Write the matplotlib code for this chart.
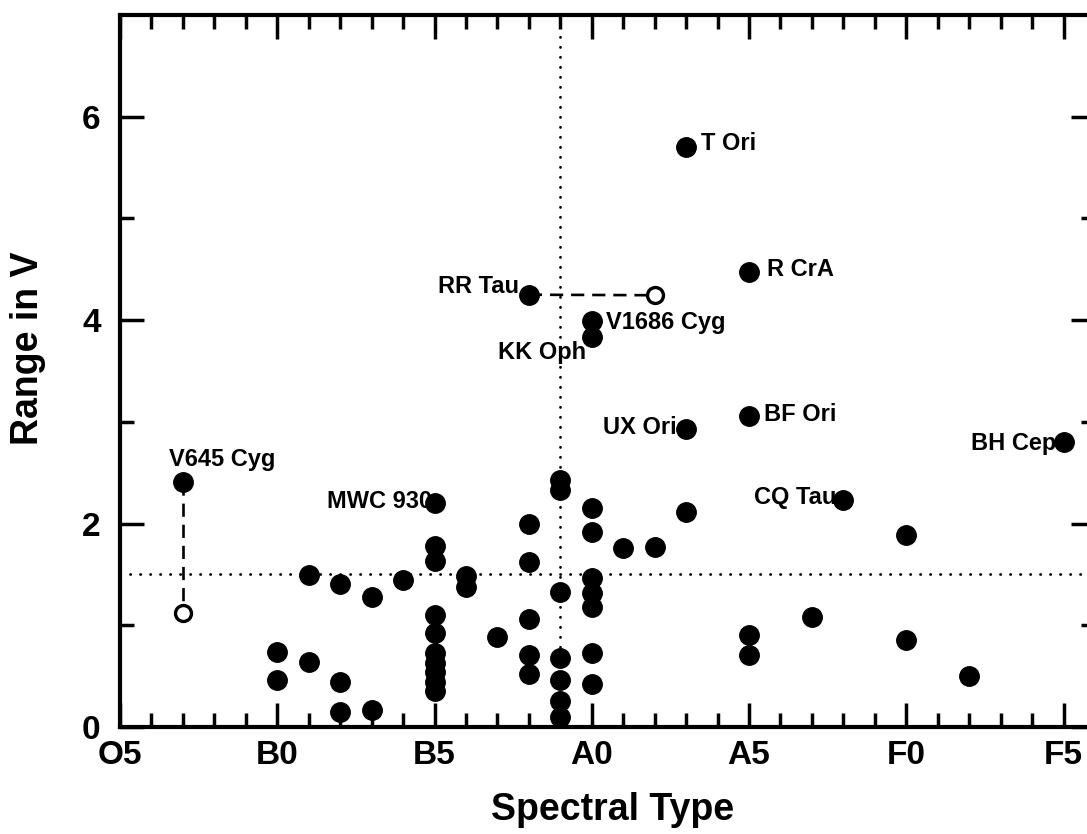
import numpy as np
import matplotlib.pyplot as plt

plt.rcParams['font.family'] = ['Liberation Sans', 'DejaVu Sans']
plt.rcParams['font.weight'] = 'bold'
plt.rcParams['axes.labelweight'] = 'bold'

# spectral subtype index: O5 = 0, B0 = 5, B5 = 10, A0 = 15, A5 = 20, F0 = 25, F5 = 30
spt_major = [0, 5, 10, 15, 20, 25, 30]
spt_labels = ['O5', 'B0', 'B5', 'A0', 'A5', 'F0', 'F5']

# stars without a name on the plot
star_spt = [5, 5,
            6, 6,
            7, 7, 7,
            8, 8,
            9,
            10, 10, 10, 10, 10, 10, 10, 10, 10,
            11, 11,
            12,
            13, 13, 13, 13, 13,
            14, 14, 14, 14, 14, 14, 14,
            15, 15, 15, 15, 15, 15, 15,
            16, 17, 18,
            20, 20,
            22,
            25, 25,
            27]
star_range = [0.74, 0.46,
              1.49, 0.64,
              1.41, 0.44, 0.15,
              1.28, 0.17,
              1.45,
              1.78, 1.63, 1.10, 0.92, 0.73, 0.63, 0.54, 0.44, 0.35,
              1.48, 1.38,
              0.88,
              2.00, 1.62, 1.06, 0.71, 0.52,
              2.43, 2.33, 1.33, 0.68, 0.46, 0.26, 0.10,
              2.15, 1.92, 1.46, 1.32, 1.18, 0.73, 0.42,
              1.76, 1.77, 2.11,
              0.90, 0.71,
              1.08,
              1.89, 0.86,
              0.50]

# named stars
named = ['V645 Cyg', 'MWC 930', 'RR Tau', 'KK Oph', 'V1686 Cyg', 'T Ori',
         'UX Ori', 'R CrA', 'BF Ori', 'CQ Tau', 'BH Cep']
named_spt = [2, 10, 13, 15, 15, 18, 18, 20, 20, 23, 30]
named_range = [2.41, 2.20, 4.25, 3.83, 3.99, 5.70, 2.93, 4.47, 3.06, 2.23, 2.80]

# alternative values (open circles) for V645 Cyg and RR Tau
alt_of = ['V645 Cyg', 'RR Tau']
alt_spt = [2, 17]
alt_range = [1.12, 4.245]

# where each name sits relative to its dot (points, alignment)
label_pos = {
    'V645 Cyg': (-10, 16, 'left'),
    'MWC 930': (-2, 1, 'right'),
    'RR Tau': (-7, 6, 'right'),
    'KK Oph': (-4, -11, 'right'),
    'V1686 Cyg': (10, -1, 'left'),
    'T Ori': (11, 3, 'left'),
    'UX Ori': (-7, 1, 'right'),
    'R CrA': (13, 2, 'left'),
    'BF Ori': (11, 1, 'left'),
    'CQ Tau': (-5, 2, 'right'),
    'BH Cep': (-5, -1, 'right'),
}

fig = plt.figure(figsize=(10.87, 8.34), dpi=100)
ax = fig.add_axes([120 / 1087, 107 / 834, 975 / 1087, 712 / 834])

dots = (0, (0.1, 3.5))
ax.axhline(1.5, color='k', lw=2, ls=dots, dash_capstyle='round', zorder=1)
ax.axvline(14, color='k', lw=2, ls=dots, dash_capstyle='round', zorder=1)

# dashed links between the two values of the same star
for name, xa, ya in zip(alt_of, alt_spt, alt_range):
    i = named.index(name)
    ax.plot([named_spt[i], xa], [named_range[i], ya], color='k', lw=1.9,
            dashes=(5, 3), zorder=2)

ax.plot(star_spt, star_range, 'o', color='k', ms=14, zorder=3)
ax.plot(named_spt, named_range, 'o', color='k', ms=14, zorder=3)
ax.plot(alt_spt, alt_range, 'o', mfc='white', mec='k', mew=2.4, ms=11.5, zorder=3)

for name, x, y in zip(named, named_spt, named_range):
    dx, dy, ha = label_pos[name]
    ax.annotate(name, (x, y), xytext=(dx, dy), textcoords='offset points',
                ha=ha, va='center', fontsize=17, zorder=4)

ax.set_xlim(0, 31)
ax.set_ylim(0, 7)
ax.set_xticks(spt_major)
ax.set_xticklabels(spt_labels)
ax.set_xticks(np.arange(0, 31), minor=True)
ax.set_yticks([0, 2, 4, 6])
ax.set_yticks([1, 3, 5], minor=True)

ax.tick_params(which='both', direction='in', top=True, right=True,
               width=2.5, labelsize=24, color='k')
ax.tick_params(which='major', length=17)
ax.tick_params(which='minor', length=10)
ax.tick_params(axis='x', pad=9)
ax.tick_params(axis='y', pad=14)
for s in ax.spines.values():
    s.set_linewidth(3)

ax.set_xlabel('Spectral Type', fontsize=27)
ax.set_ylabel('Range in V', fontsize=27)
ax.xaxis.set_label_coords(0.505, -0.091)
ax.yaxis.set_label_coords(-0.076, 0.532)

fig.savefig('out.png', dpi=100)
